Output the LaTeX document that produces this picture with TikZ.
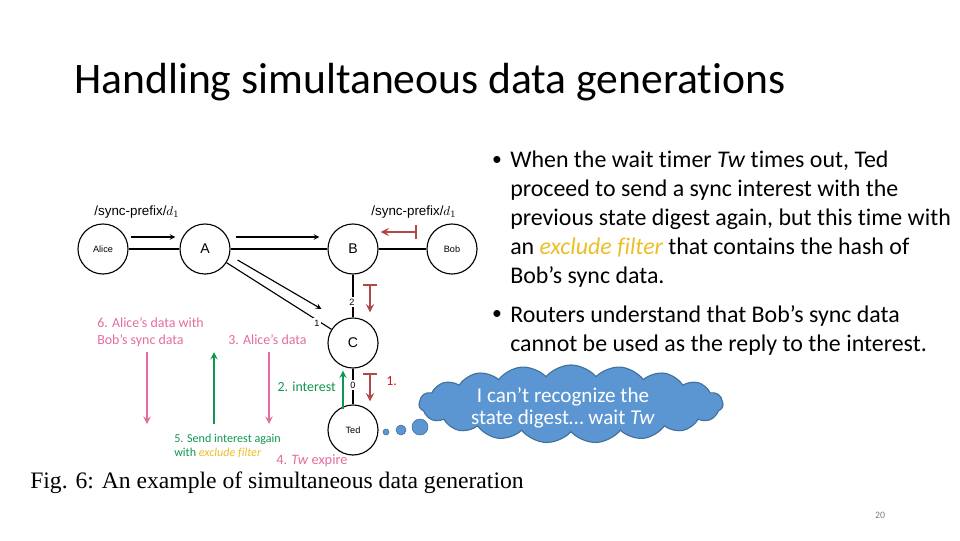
\documentclass[tikz,border=0pt]{standalone}
\usepackage{fontspec}
\setmainfont{Carlito}[Ligatures=NoCommon]
\newfontfamily\figfont{Liberation Sans}
\newfontfamily\capfont{Liberation Serif}
\usepackage{xcolor}
\usetikzlibrary{shapes,arrows,positioning}

\definecolor{annpink}{RGB}{228,108,158}
\definecolor{anngreen}{RGB}{16,150,80}
\definecolor{darkred}{RGB}{165,40,40}
\definecolor{brightred}{RGB}{205,25,30}
\definecolor{gold}{RGB}{236,190,40}
\definecolor{cloudblue}{RGB}{91,150,210}
\definecolor{cloudedge}{RGB}{65,113,156}

\begin{document}
\begin{tikzpicture}[
    x=0.025cm, y=-0.025cm,
    peer/.style={
        circle,
        draw=black,
        thick,
        minimum size=1.25cm,
        inner sep=0pt,
        font=\figfont\fontsize{6.5}{7}\selectfont
    },
    router/.style={
        peer,
        font=\figfont\fontsize{10}{12}\selectfont
    },
    link/.style={thick},
    face/.style={
        fill=white,
        inner sep=1pt,
        font=\figfont\fontsize{6.5}{7}\selectfont
    },
    arrow/.style={
        ->,
        thick,
        >=stealth
    },
    redarrow/.style={
        |->,
        line width=1.6pt,
        >=stealth,
        draw=darkred!85
    },
    annarrow/.style={
        ->,
        line width=1.3pt,
        >=stealth
    },
    note/.style={
        align=left,
        inner sep=0pt,
        font=\fontsize{9.9}{12}\selectfont
    },
    bullet/.style={
        anchor=north west,
        align=left,
        inner sep=0pt,
        font=\fontsize{17}{20.6}\selectfont
    },
    dotmark/.style={
        inner sep=0pt,
        font=\fontsize{14}{14}\selectfont
    },
    puff/.style={
        circle,
        fill=cloudblue,
        draw=cloudedge,
        inner sep=0pt
    }
]
\useasboundingbox (0,0) rectangle (960,540);

% Title
\node[anchor=west, inner sep=0pt, font=\fontsize{31}{36}\selectfont] (title) at (74,82) {Handling simultaneous data generations};

% Bullets
\node[dotmark] (dot1) at (497,161) {•};
\node[bullet] (txt1) at (510,151) {When the wait timer \textit{Tw} times out, Ted\\proceed to send a sync interest with the\\previous state digest again, but this time with\\an {\color{gold}\itshape exclude filter} that contains the hash of\\Bob’s sync data.};
\node[dotmark] (dot2) at (497,315) {•};
\node[bullet] (txt2) at (510,305) {Routers understand that Bob’s sync data\\cannot be used as the reply to the interest.};

% Topology
\node[peer] (alice) at (103,249) {Alice};
\node[router] (nodeA) at (205,249) {A};
\node[router] (nodeB) at (353,249) {B};
\node[peer] (bob) at (452,249) {Bob};
\node[router] (nodeC) at (353,343) {C};
\node[peer] (ted) at (353,430) {Ted};

\draw[link] (alice) -- (nodeA);
\draw[link] (nodeA) -- (nodeB);
\draw[link] (nodeB) -- (bob);
\draw[link] (nodeA) -- (nodeC);
\draw[link] (nodeB) -- (nodeC);
\draw[link] (nodeC) -- (ted);

% Face numbers
\node[face] (f1) at (317,323) {1};
\node[face] (f2) at (352,302) {2};
\node[face] (f0) at (353,385) {0};

% Prefixes
\node[font=\figfont\fontsize{9.5}{10}\selectfont, inner sep=0pt] (pre1) at (137,212) {/sync-prefix/$d_1$};
\node[font=\figfont\fontsize{9.5}{10}\selectfont, inner sep=0pt] (pre2) at (414,212) {/sync-prefix/$d_1$};

% Data flow
\draw[arrow] ([shift={(2,-12)}]alice.east) -- ([shift={(-4,-12)}]nodeA.west);
\draw[arrow] ([shift={(5,-12)}]nodeA.east) -- ([shift={(-8,-12)}]nodeB.west);
\draw[arrow] ([shift={(7,11)}]nodeA.east) -- ([shift={(-6,-34)}]nodeC.west);
\draw[redarrow] ([shift={(-9,-17)}]bob.west) -- ([shift={(2,-17)}]nodeB.east);
\draw[redarrow] ([shift={(17,9)}]nodeB.south) -- ([shift={(17,-5)}]nodeC.north);
\draw[redarrow] ([shift={(17,4)}]nodeC.south) -- ([shift={(17,-3)}]ted.north);
\draw[annarrow, anngreen] ([shift={(-10,5)}]ted.north) -- ([shift={(-10,2)}]nodeC.south);

% Annotation arrows
\coordinate (pinkA1) at (147,352);
\coordinate (pinkA2) at (147,424);
\coordinate (greenA1) at (214,424);
\coordinate (greenA2) at (214,352);
\coordinate (pinkB1) at (269,352);
\coordinate (pinkB2) at (269,424);
\draw[annarrow, annpink] (pinkA1) -- (pinkA2);
\draw[annarrow, anngreen] (greenA1) -- (greenA2);
\draw[annarrow, annpink] (pinkB1) -- (pinkB2);

% Annotations
\node[note, anchor=west, text=annpink] (n6) at (97,332) {6. Alice’s data with\\Bob’s sync data};
\node[note, anchor=west, text=annpink] (n3) at (228,340) {3. Alice’s data};
\node[note, anchor=east, text=anngreen] (n2) at (336,387) {2. interest};
\node[note, anchor=west, text=brightred] (n1) at (386,381) {1.};
\node[note, anchor=west, text=anngreen, font=\fontsize{8.6}{10}\selectfont] (n5) at (174,446) {5. Send interest again\\with {\color{gold}\itshape exclude filter}};
\node[note, anchor=west, text=annpink, font=\fontsize{10.2}{12}\selectfont] (n4) at (276,461) {4. \textit{Tw} expire};

% Caption
\node[anchor=west, inner sep=0pt, font=\capfont\fontsize{16.8}{19}\selectfont] (caption) at (30,483) {Fig. 6: An example of simultaneous data generation};

% Thought bubble
\node[puff, minimum size=0.15cm] (puff1) at (386,432) {};
\node[puff, minimum size=0.25cm] (puff2) at (401,430) {};
\node[puff, minimum size=0.4cm] (puff3) at (420,427) {};
\node[cloud, cloud puffs=19, cloud puff arc=100, aspect=4, fill=cloudblue, draw=cloudedge, thick, minimum width=7.6cm, minimum height=1.95cm, inner sep=0pt] (think) at (571,404) {};
\node[align=center, text=white, inner sep=0pt, font=\fontsize{15}{15.6}\selectfont] (thinktext) at (563,408) {I can’t recognize the\\state digest… wait \textit{Tw}};

% Page number
\node[text=gray, font=\fontsize{7}{8}\selectfont] (page) at (880,515) {20};

\end{tikzpicture}
\end{document}
